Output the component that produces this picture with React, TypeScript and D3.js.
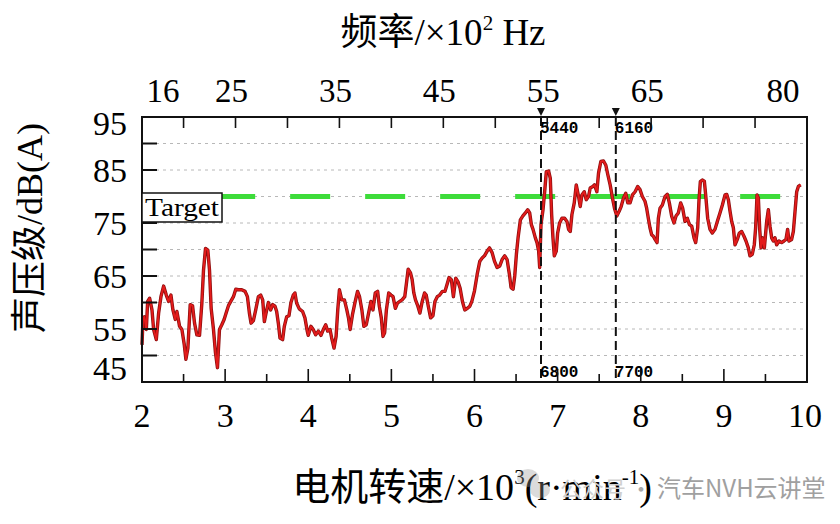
import * as d3 from 'd3';

// motor speed (x10^3 r/min) and sound pressure level dB(A)
const rpm = [
  2.0, 2.012, 2.028, 2.052, 2.068, 2.092, 2.12, 2.14, 2.172, 2.2, 2.228, 2.26, 2.292, 2.32, 2.348,
  2.372, 2.4, 2.42, 2.452, 2.48, 2.508, 2.528, 2.552, 2.58, 2.608, 2.632, 2.66, 2.692, 2.72, 2.74,
  2.764, 2.792, 2.812, 2.832, 2.86, 2.884, 2.908, 2.932, 2.96, 2.988, 3.012, 3.04, 3.068, 3.1, 3.128,
  3.16, 3.2, 3.24, 3.268, 3.292, 3.312, 3.34, 3.368, 3.4, 3.428, 3.452, 3.472, 3.492, 3.52, 3.548,
  3.572, 3.6, 3.62, 3.64, 3.66, 3.692, 3.712, 3.74, 3.768, 3.792, 3.82, 3.84, 3.86, 3.892, 3.932,
  3.96, 3.988, 4.0, 4.032, 4.06, 4.089, 4.121, 4.153, 4.181, 4.21, 4.234, 4.262, 4.282, 4.31, 4.335,
  4.355, 4.375, 4.403, 4.435, 4.464, 4.484, 4.504, 4.532, 4.565, 4.593, 4.617, 4.645, 4.669, 4.698,
  4.726, 4.754, 4.778, 4.806, 4.835, 4.855, 4.879, 4.899, 4.919, 4.94, 4.968, 4.996, 5.02, 5.048,
  5.073, 5.101, 5.129, 5.161, 5.181, 5.202, 5.23, 5.25, 5.27, 5.29, 5.319, 5.343, 5.371, 5.399,
  5.419, 5.444, 5.472, 5.5, 5.524, 5.552, 5.581, 5.613, 5.645, 5.673, 5.694, 5.722, 5.746, 5.774,
  5.802, 5.827, 5.855, 5.883, 5.915, 5.944, 5.968, 6.0, 6.032, 6.064, 6.092, 6.12, 6.152, 6.18,
  6.212, 6.24, 6.272, 6.304, 6.332, 6.364, 6.392, 6.42, 6.44, 6.464, 6.484, 6.504, 6.524, 6.552,
  6.58, 6.612, 6.64, 6.664, 6.684, 6.704, 6.732, 6.752, 6.772, 6.784, 6.8, 6.824, 6.844, 6.864,
  6.892, 6.912, 6.928, 6.944, 6.96, 6.984, 7.0, 7.024, 7.052, 7.084, 7.112, 7.132, 7.152, 7.172,
  7.2, 7.224, 7.252, 7.272, 7.292, 7.32, 7.344, 7.372, 7.392, 7.424, 7.444, 7.472, 7.492, 7.52,
  7.552, 7.58, 7.604, 7.632, 7.66, 7.684, 7.712, 7.74, 7.764, 7.792, 7.82, 7.844, 7.872, 7.9,
  7.932, 7.963, 7.991, 8.019, 8.051, 8.071, 8.091, 8.111, 8.131, 8.152, 8.172, 8.196, 8.212, 8.232,
  8.26, 8.292, 8.32, 8.344, 8.372, 8.4, 8.424, 8.452, 8.48, 8.504, 8.532, 8.56, 8.585, 8.613,
  8.641, 8.661, 8.685, 8.701, 8.717, 8.741, 8.765, 8.781, 8.805, 8.833, 8.861, 8.893, 8.921, 8.953,
  8.982, 9.014, 9.034, 9.054, 9.074, 9.094, 9.114, 9.134, 9.162, 9.186, 9.214, 9.242, 9.266, 9.294,
  9.314, 9.342, 9.366, 9.382, 9.399, 9.415, 9.431, 9.447, 9.467, 9.487, 9.515, 9.535, 9.555, 9.575,
  9.595, 9.615, 9.635, 9.663, 9.695, 9.723, 9.747, 9.767, 9.783, 9.815, 9.836, 9.856, 9.876, 9.896,
  9.924,
];
const spl = [
  52.0, 57.0, 57.3, 54.9, 60.2, 60.8, 58.6, 54.9, 53.0, 58.0, 61.1, 63.1, 61.4, 60.2, 61.4,
  58.6, 56.8, 58.3, 55.5, 54.9, 52.1, 49.3, 51.4, 59.6, 59.4, 56.1, 53.9, 53.8, 59.9, 66.1,
  70.2, 69.9, 66.1, 58.9, 54.9, 50.5, 47.7, 54.9, 55.8, 56.8, 58.0, 59.4, 60.2, 61.1, 62.5,
  62.4, 62.4, 62.1, 61.1, 58.0, 56.1, 56.6, 58.6, 61.1, 61.4, 60.5, 56.4, 58.0, 60.0, 58.6,
  59.6, 59.3, 58.3, 56.1, 53.3, 53.0, 55.5, 57.3, 57.5, 60.0, 61.4, 61.8, 59.9, 58.8, 58.3,
  57.1, 54.6, 53.8, 55.5, 54.9, 53.9, 54.6, 53.8, 54.9, 55.8, 54.6, 54.9, 53.3, 51.4, 53.6,
  58.6, 62.4, 60.5, 60.5, 58.6, 57.1, 54.9, 57.7, 60.2, 62.1, 61.1, 58.6, 55.5, 55.8,
  58.0, 60.2, 58.6, 61.8, 62.1, 59.3, 57.1, 53.6, 54.3, 58.6, 61.8, 61.4, 61.1, 58.9,
  59.9, 60.2, 60.5, 61.1, 63.6, 66.3, 65.6, 64.3, 61.8, 60.5, 59.3, 58.0, 60.2, 61.8,
  61.4, 59.3, 57.1, 57.5, 60.2, 61.1, 61.4, 62.1, 62.1, 63.6, 64.7, 64.3, 61.1, 64.6,
  63.9, 62.7, 60.2, 58.6, 58.9, 59.3, 60.2, 62.2, 65.3, 67.8, 68.4, 68.8, 69.7, 70.3,
  69.4, 67.8, 66.6, 66.9, 68.1, 68.8, 68.1, 65.3, 62.8, 62.5, 65.0, 69.1, 72.2, 75.6,
  76.3, 76.9, 77.5, 76.9, 74.7, 73.8, 72.2, 71.3, 69.7, 66.6, 74.7, 77.5, 80.9, 84.7,
  84.8, 83.4, 76.6, 72.2, 68.8, 69.7, 73.1, 75.0, 75.9, 75.9, 75.3, 73.8, 73.4, 76.6,
  78.8, 82.2, 80.0, 78.1, 80.3, 80.9, 79.4, 80.0, 81.6, 81.9, 82.2, 80.9, 84.4, 86.6,
  86.7, 85.9, 84.1, 82.2, 79.7, 77.8, 76.3, 77.2, 78.1, 79.7, 80.6, 78.8, 78.8, 80.3,
  80.9, 81.9, 81.3, 80.0, 79.1, 77.8, 75.9, 74.1, 72.8, 72.5, 71.9, 71.3, 75.9, 77.8,
  78.4, 80.0, 80.4, 78.8, 76.3, 75.0, 76.3, 76.9, 78.8, 77.8, 75.3, 75.9, 74.7, 74.4,
  72.2, 71.3, 74.1, 79.4, 82.8, 83.1, 82.9, 80.3, 75.9, 73.8, 73.1, 73.8, 75.3, 76.9,
  78.4, 80.3, 80.4, 79.4, 77.2, 75.3, 74.1, 70.9, 71.9, 73.1, 73.4, 72.5, 71.6, 70.3,
  68.8, 69.1, 70.9, 74.1, 80.3, 79.7, 73.8, 70.3, 72.2, 70.3, 75.3, 77.5, 74.4, 72.2,
  71.6, 72.2, 70.9, 71.6, 71.3, 71.6, 71.9, 73.8, 71.6, 71.9, 73.4, 77.2, 80.9, 81.9,
  82.2,
];

const rpmTicks = [2, 3, 4, 5, 6, 7, 8, 9, 10];
const freqTicks = [16, 25, 35, 45, 55, 65, 80];
const splTicks = [95, 85, 75, 65, 55, 45];

const target = 80;
const targetSpan = [2.88, 9.68];
const markerRpm = [6800, 7700];
const markerFreq = [5440, 6160];

const serif = "'Times New Roman', 'Liberation Serif', 'Noto Sans CJK SC', serif";
const mono = "'Liberation Mono', 'DejaVu Sans Mono', monospace";

const W = 840;
const H = 524;
const left = 142;
const right = 807;
const top = 117;
const bottom = 382;

function App() {
  const x = d3.scaleLinear().domain([2, 10]).range([left, right]);
  const xf = d3.scaleLinear().domain([16, 80]).range([left, right]);
  const y = d3.scaleLinear().domain([45, 95]).range([bottom, top]);

  const pts = rpm.map((r, i) => [r, spl[i]] as [number, number]);
  const line = d3
    .line<[number, number]>()
    .x((d) => x(d[0]))
    .y((d) => y(d[1]));
  const path = line(pts) ?? '';

  const gridVals = d3.range(50, 91, 5);
  const minorX = d3.range(2.5, 10, 0.5);
  const topTickVals = d3.range(20, 76, 5);

  return (
    <svg
      width={W}
      height={H}
      style={{ position: 'absolute', left: 0, top: 0, background: '#fff' }}
      fontFamily={serif}
    >
      <rect width={W} height={H} fill="#fff" />

      {/* grid */}
      {gridVals.map((v) => (
        <line
          key={'g' + v}
          x1={left}
          x2={right}
          y1={y(v)}
          y2={y(v)}
          stroke="#b8b8b8"
          strokeWidth={1}
          strokeDasharray="3 4"
        />
      ))}

      {/* target */}
      <line
        x1={x(targetSpan[0])}
        x2={x(targetSpan[1])}
        y1={y(target)}
        y2={y(target)}
        stroke="#3ddc3a"
        strokeWidth={5}
        strokeDasharray="40 35"
      />

      {/* spl trace */}
      <path d={path} fill="none" stroke="#8a0e0e" strokeWidth={3.4} strokeLinejoin="round" />
      <path d={path} fill="none" stroke="#e31b1b" strokeWidth={1.9} strokeLinejoin="round" />

      {/* markers */}
      {markerRpm.map((m, i) => (
        <g key={'m' + m}>
          <line
            x1={x(m / 1000)}
            x2={x(m / 1000)}
            y1={top}
            y2={bottom}
            stroke="#111"
            strokeWidth={2}
            strokeDasharray="9 5"
          />
          <path
            d={`M${x(m / 1000) - 4},108 L${x(m / 1000) + 4},108 L${x(m / 1000)},116 Z`}
            fill="#111"
          />
          <text x={x(m / 1000) - 1} y={133} fontFamily={mono} fontWeight="bold" fontSize={16}>
            {markerFreq[i]}
          </text>
          <text x={x(m / 1000) - 1} y={377} fontFamily={mono} fontWeight="bold" fontSize={16}>
            {m}
          </text>
        </g>
      ))}

      {/* ticks */}
      {gridVals.map((v) => (
        <line key={'lt' + v} x1={left} x2={left + 15} y1={y(v)} y2={y(v)} stroke="#111" strokeWidth={2} />
      ))}
      {minorX.map((v) => (
        <line
          key={'bt' + v}
          x1={x(v)}
          x2={x(v)}
          y1={bottom}
          y2={bottom - (Number.isInteger(v) ? 13 : 8)}
          stroke="#111"
          strokeWidth={1.6}
        />
      ))}
      {topTickVals.map((v) => (
        <line key={'tt' + v} x1={xf(v)} x2={xf(v)} y1={top} y2={top + 11} stroke="#111" strokeWidth={1.6} />
      ))}

      <rect
        x={left}
        y={top}
        width={right - left}
        height={bottom - top}
        fill="none"
        stroke="#111"
        strokeWidth={2}
      />

      {/* target label */}
      <rect x={left} y={193} width={80} height={29} fill="#fff" stroke="#111" strokeWidth={1.5} />
      <text x={left + 3} y={216} fontSize={25} textLength={74} lengthAdjust="spacingAndGlyphs">
        Target
      </text>

      {/* tick labels */}
      {splTicks.map((v) => (
        <text
          key={'yl' + v}
          x={127}
          y={Math.min(Math.max(y(v), 123), 368)}
          fontSize={34}
          textAnchor="end"
          dominantBaseline="central"
        >
          {v}
        </text>
      ))}
      {rpmTicks.map((v) => (
        <text key={'xl' + v} x={Math.min(x(v), 805)} y={427} fontSize={34} textAnchor="middle">
          {v}
        </text>
      ))}
      {freqTicks.map((v) => (
        <text
          key={'fl' + v}
          x={Math.min(Math.max(xf(v) - 4, 163), 783)}
          y={102}
          fontSize={33}
          textAnchor="middle"
        >
          {v}
        </text>
      ))}

      {/* titles */}
      <text x={443} y={45} fontSize={37} textAnchor="middle">
        频率/×10<tspan fontSize={21} dy={-15}>2</tspan>
        <tspan dy={15}> Hz</tspan>
      </text>
      <text x={472} y={500} fontSize={38} textAnchor="middle">
        电机转速/×10<tspan fontSize={21} dy={-16}>3</tspan>
        <tspan dy={16}>(r·min</tspan>
        <tspan fontSize={21} dy={-16}>-1</tspan>
        <tspan dy={16}>)</tspan>
      </text>
      <text
        transform="translate(42,228) rotate(-90)"
        fontSize={36}
        textAnchor="middle"
      >
        声压级/dB(A)
      </text>

      {/* watermark */}
      <g opacity={0.35}>
        <ellipse cx={528} cy={478} rx={11} ry={9} fill="#9a9a9a" />
        <ellipse cx={540} cy={490} rx={10} ry={8} fill="#9a9a9a" />
      </g>
      <text x={560} y={497} fontSize={22} fill="#d0d0d0" fontFamily="'Noto Sans CJK SC', sans-serif">
        公众号
      </text>
      <text x={630} y={497} fontSize={22} fill="#a8a8a8" fontFamily="'Noto Sans CJK SC', sans-serif">
        ·
      </text>
      <text x={657} y={497} fontSize={24} fill="#a0a0a0" fontFamily="'Noto Sans CJK SC', sans-serif">
        汽车NVH云讲堂
      </text>
    </svg>
  );
}

export default App;
